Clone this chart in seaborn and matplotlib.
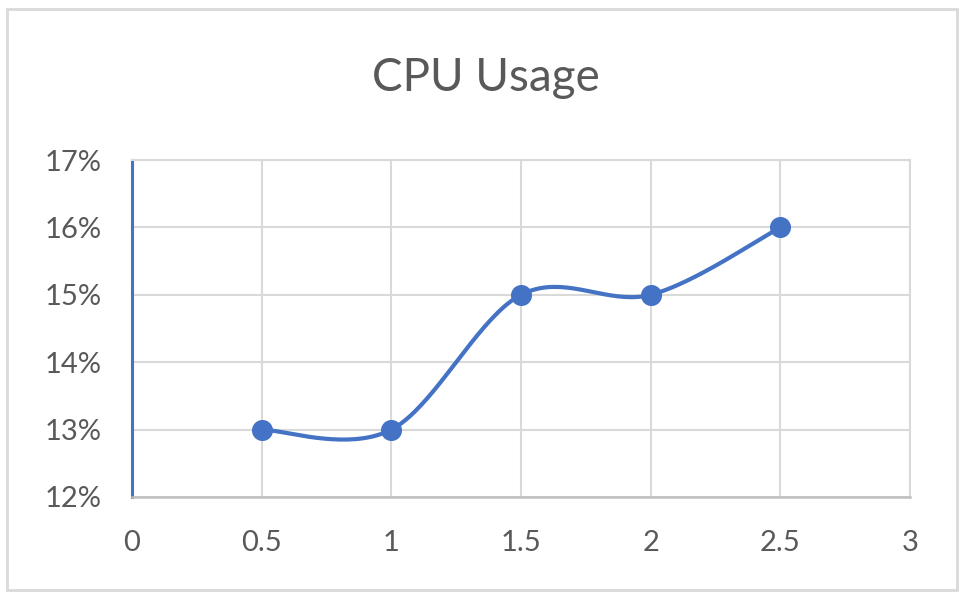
import numpy as np
import pandas as pd
import matplotlib
matplotlib.use("Agg")
import matplotlib.pyplot as plt
import seaborn as sns
from matplotlib.ticker import PercentFormatter, MultipleLocator
from matplotlib.patches import Rectangle

# chart data
hours = [0.5, 1.0, 1.5, 2.0, 2.5]
cpu_usage = [0.13, 0.13, 0.15, 0.15, 0.16]
title = "CPU Usage"

line_color = "#4472C4"
grid_color = "#D9D9D9"
text_color = "#595959"


def smooth_curve(xs, ys, steps=40):
    # Excel-style smoothed line: cubic Bezier segments with Catmull-Rom controls
    pts = np.column_stack([xs, ys]).astype(float)
    padded = np.vstack([pts[0], pts, pts[-1]])
    t = np.linspace(0, 1, steps)[:, None]
    out = []
    for i in range(len(pts) - 1):
        p0, p1 = padded[i + 1], padded[i + 2]
        c1 = p0 + (padded[i + 2] - padded[i]) / 6
        c2 = p1 - (padded[i + 3] - padded[i + 1]) / 6
        seg = ((1 - t) ** 3) * p0 + 3 * ((1 - t) ** 2) * t * c1 + 3 * (1 - t) * t ** 2 * c2 + t ** 3 * p1
        out.append(seg if i == 0 else seg[1:])
    return np.vstack(out)


sns.set_theme(style="white")
plt.rcParams["font.family"] = ["Lato", "DejaVu Sans"]

df = pd.DataFrame({"hours": hours, "cpu": cpu_usage})
curve = smooth_curve(hours, cpu_usage)
curve_df = pd.DataFrame({"x": curve[:, 0], "y": curve[:, 1], "order": np.arange(len(curve))})

fig = plt.figure(figsize=(9.65, 6.15), dpi=100)
ax = fig.add_axes([0.1368, 0.1919, 0.943 - 0.1368, 0.7398 - 0.1919])

sns.lineplot(data=curve_df, x="x", y="y", sort=False, estimator=None,
             color=line_color, linewidth=3, ax=ax, zorder=3)
sns.scatterplot(data=df, x="hours", y="cpu", color=line_color, s=230,
                edgecolor=line_color, linewidth=0, ax=ax, zorder=4)

ax.set_xlim(0, 3)
ax.set_ylim(0.12, 0.17)
ax.xaxis.set_major_locator(MultipleLocator(0.5))
ax.yaxis.set_major_locator(MultipleLocator(0.01))
ax.yaxis.set_major_formatter(PercentFormatter(1.0, decimals=0))
ax.xaxis.set_major_formatter(lambda v, p: f"{v:g}")

ax.grid(True, color=grid_color, linewidth=1.5)
ax.set_axisbelow(True)
ax.set_xlabel("")
ax.set_ylabel("")

for side in ["top", "right"]:
    ax.spines[side].set_color(grid_color)
    ax.spines[side].set_linewidth(1.5)
ax.spines["bottom"].set_color("#BFBFBF")
ax.spines["bottom"].set_linewidth(1.8)
ax.spines["left"].set_color(line_color)
ax.spines["left"].set_linewidth(2.2)

ax.tick_params(axis="x", length=0, pad=24, labelsize=21, labelcolor=text_color)
ax.tick_params(axis="y", length=0, pad=22, labelsize=21, labelcolor=text_color)

fig.text(0.503, 0.873, title, ha="center", va="center", fontsize=33, color=text_color)

# outer chart border
fig.patches.append(Rectangle((0.007, 0.04), 0.985, 0.946, transform=fig.transFigure,
                             fill=False, edgecolor=grid_color, linewidth=2))

fig.savefig("out.png", dpi=100)
